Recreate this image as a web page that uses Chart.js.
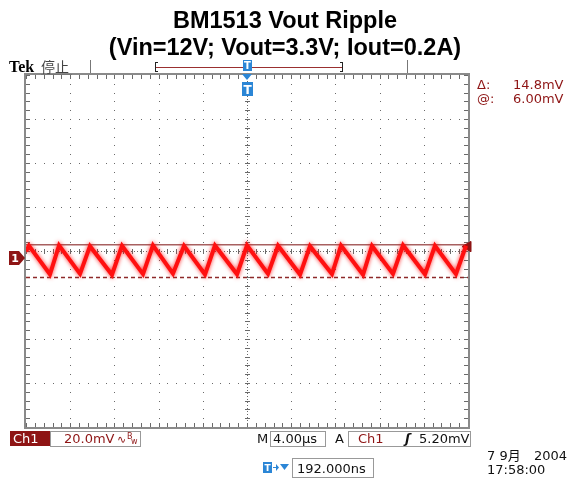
<!DOCTYPE html>
<html>
<head>
<meta charset="utf-8">
<script src="https://cdn.jsdelivr.net/npm/chart.js@4.4.0/dist/chart.umd.min.js"></script>
<style>
  body { margin: 0; background: #fff; }
  #wrap { position: relative; width: 570px; height: 482px; }
</style>
</head>
<body>
<div id="wrap"><canvas id="scope" width="570" height="482"></canvas></div>
<script>
  const titleLines = ['BM1513 Vout Ripple', '(Vin=12V; Vout=3.3V; Iout=0.2A)'];

  // Ch1 ripple trace: time in µs (4 µs/div), voltage in mV (20 mV/div)
  const traceTime = [-20.0, -19.73, -17.83, -17.01, -15.11, -14.21, -12.22, -11.31, -9.41, -8.51,
    -6.70, -5.70, -3.80, -2.90, -0.90, 0.0, 1.90, 2.81, 4.80, 5.70,
    7.69, 8.51, 10.50, 11.31, 13.21, 14.12, 16.11, 17.01, 18.91, 19.82];
  const traceMv = [3.0, 5.6, -7.4, 5.8, -7.2, 5.4, -7.6, 5.6, -7.3, 5.8,
    -7.1, 5.5, -7.5, 5.7, -7.4, 5.8, -7.2, 5.6, -7.5, 5.4,
    -7.3, 5.7, -7.6, 5.5, -7.2, 5.8, -7.4, 5.6, -7.3, 5.6];

  const cursorLevels = [6.00, -8.80];   // mV, delta = 14.8 mV
  const triggerLevel = 5.20;            // mV
  const timeRange = [-20, 20];          // 10 div x 4 µs
  const mvRange = [-76.8, 83.2];        // 8 div x 20 mV, ground a bit below centre
  const divTime = 4, divMv = 20, minorPerDiv = 5;

  const readoutDelta = ['\u0394:', '14.8mV'];
  const readoutAt = ['@:', '6.00mV'];

  const darkRed = '#8e1414';
  const tekBlue = '#2b86d6';
  const mono = '13px "DejaVu Sans"';

  const line = (ctx, x1, y1, x2, y2) => { ctx.beginPath(); ctx.moveTo(x1, y1); ctx.lineTo(x2, y2); ctx.stroke(); };

  const graticule = {
    id: 'graticule',
    beforeDatasetsDraw(chart) {
      const { ctx, chartArea: a, scales: { x, y } } = chart;
      ctx.save();
      const xMinor = divTime / minorPerDiv, yMinor = divMv / minorPerDiv;
      const xs = [], ys = [];
      for (let t = timeRange[0]; t <= timeRange[1] + 1e-6; t += xMinor) xs.push(x.getPixelForValue(t));
      for (let v = mvRange[0]; v <= mvRange[1] + 1e-6; v += yMinor) ys.push(y.getPixelForValue(v));
      ctx.fillStyle = '#6a6a6a';
      // dotted major lines
      for (let k = 1; k < 10; k++) {
        const px = Math.round(x.getPixelForValue(timeRange[0] + k * divTime));
        ys.forEach(py => ctx.fillRect(px, Math.round(py), 1, 1));
      }
      for (let k = 1; k < 8; k++) {
        const py = Math.round(y.getPixelForValue(mvRange[0] + k * divMv));
        xs.forEach(px => ctx.fillRect(Math.round(px), py, 1, 1));
      }
      // centre crosshair with ticks
      const cx = Math.round(x.getPixelForValue(0));
      const cy = Math.round(y.getPixelForValue(mvRange[0] + 4 * divMv));
      for (let py = a.top; py < a.bottom; py += 3) ctx.fillRect(cx, py, 1, 1);
      for (let px = a.left; px < a.right; px += 3) ctx.fillRect(px, cy, 1, 1);
      ys.forEach(py => ctx.fillRect(cx - 2, Math.round(py), 5, 1));
      xs.forEach(px => ctx.fillRect(Math.round(px), cy - 2, 1, 5));
      // border ticks
      xs.forEach(px => { ctx.fillRect(Math.round(px), a.top, 1, 4); ctx.fillRect(Math.round(px), a.bottom - 4, 1, 4); });
      ys.forEach(py => { ctx.fillRect(a.left, Math.round(py), 4, 1); ctx.fillRect(a.right - 4, Math.round(py), 4, 1); });
      ctx.strokeStyle = '#8a8a8a';
      ctx.lineWidth = 2;
      ctx.strokeRect(a.left - 1, a.top - 1, a.right - a.left + 2, a.bottom - a.top + 2);
      ctx.restore();
    },
    beforeDatasetDraw(chart, args) {
      if (args.index === 0) {
        chart.ctx.save();
        chart.ctx.shadowColor = 'rgba(255,0,0,0.8)';
        chart.ctx.shadowBlur = 4;
      }
    },
    afterDatasetDraw(chart, args) {
      if (args.index === 0) chart.ctx.restore();
    },
    afterDraw(chart) {
      const { ctx, chartArea: a, scales: { x, y } } = chart;
      ctx.save();
      // title
      ctx.fillStyle = '#000';
      ctx.textAlign = 'center';
      ctx.textBaseline = 'alphabetic';
      ctx.font = 'bold 23.5px "Liberation Sans", Arial';
      ctx.fillText(titleLines[0], 285, 28);
      ctx.fillText(titleLines[1], 285, 55);

      // top status line
      ctx.textAlign = 'left';
      ctx.font = 'bold 16px "Liberation Serif"';
      ctx.fillText('Tek', 9, 72);
      ctx.font = '14px "Noto Sans CJK SC"';
      ctx.fillStyle = '#444';
      ctx.fillText('停止', 41, 72);
      ctx.strokeStyle = '#777';
      ctx.lineWidth = 1;
      line(ctx, 41, 74.5, 72, 74.5);
      line(ctx, 90.5, 60, 90.5, 73);
      line(ctx, 407.5, 60, 407.5, 73);
      // record bracket
      ctx.strokeStyle = '#222';
      line(ctx, 155.5, 62, 155.5, 72); line(ctx, 155, 62.5, 158, 62.5); line(ctx, 155, 71.5, 158, 71.5);
      line(ctx, 342.5, 62, 342.5, 72); line(ctx, 340, 62.5, 343, 62.5); line(ctx, 340, 71.5, 343, 71.5);
      ctx.strokeStyle = '#9a3030';
      line(ctx, 156, 67.5, 342, 67.5);

      // trigger position markers
      const tx = x.getPixelForValue(0);
      ctx.fillStyle = tekBlue;
      ctx.fillRect(tx - 4, 60, 9, 11);
      ctx.beginPath(); ctx.moveTo(tx - 5, 74); ctx.lineTo(tx + 5, 74); ctx.lineTo(tx, 80); ctx.fill();
      ctx.fillRect(tx - 5, 82, 11, 14);
      ctx.fillStyle = '#fff';
      ctx.font = 'bold 10px "DejaVu Sans"';
      ctx.textAlign = 'center';
      ctx.fillText('T', tx + 0.5, 69);
      ctx.font = 'bold 12px "DejaVu Sans"';
      ctx.fillText('T', tx + 0.5, 94);

      // channel ground marker
      const gy = y.getPixelForValue(0);
      ctx.fillStyle = darkRed;
      ctx.beginPath();
      ctx.moveTo(9, gy - 7); ctx.lineTo(19, gy - 7); ctx.lineTo(25, gy); ctx.lineTo(19, gy + 7); ctx.lineTo(9, gy + 7);
      ctx.closePath(); ctx.fill();
      ctx.fillStyle = '#fff';
      ctx.font = 'bold 11px "DejaVu Sans"';
      ctx.fillText('1', 15, gy + 4);

      // cursor readouts
      ctx.textAlign = 'left';
      ctx.font = mono;
      ctx.fillStyle = darkRed;
      ctx.fillText(readoutDelta[0], 477, 89);
      ctx.fillText(readoutDelta[1], 513, 89);
      ctx.fillText(readoutAt[0], 477, 103);
      ctx.fillText(readoutAt[1], 513, 103);

      // bottom status row
      ctx.fillStyle = darkRed;
      ctx.fillRect(10, 431, 40, 15);
      ctx.fillStyle = '#fff';
      ctx.fillText('Ch1', 13, 443);
      ctx.strokeStyle = '#999';
      ctx.strokeRect(50.5, 431.5, 90, 15);
      ctx.fillStyle = darkRed;
      ctx.fillText('20.0mV', 64, 443);
      ctx.font = '11px "DejaVu Sans"';
      ctx.fillText('\u223F', 117, 443);
      ctx.font = '8px "DejaVu Sans"';
      ctx.fillText('B', 127, 439);
      ctx.fillText('w', 131, 444);

      ctx.font = mono;
      ctx.fillStyle = '#111';
      ctx.fillText('M', 257, 443);
      ctx.strokeRect(270.5, 431.5, 55, 15);
      ctx.fillText('4.00\u00B5s', 273, 443);
      ctx.fillText('A', 335, 443);
      ctx.strokeRect(348.5, 431.5, 122, 15);
      ctx.fillStyle = darkRed;
      ctx.fillText('Ch1', 358, 443);
      ctx.fillStyle = '#111';
      ctx.font = 'italic bold 13px "DejaVu Sans"';
      ctx.fillText('\u0283', 405, 443);
      ctx.font = mono;
      ctx.fillText('5.20mV', 419, 443);

      // delay readout
      ctx.fillStyle = tekBlue;
      ctx.fillRect(263, 462, 9, 11);
      ctx.fillRect(273, 467, 4, 1);
      ctx.beginPath(); ctx.moveTo(276, 464); ctx.lineTo(279, 467.5); ctx.lineTo(276, 471); ctx.fill();
      ctx.beginPath(); ctx.moveTo(280, 464); ctx.lineTo(289, 464); ctx.lineTo(284.5, 470); ctx.fill();
      ctx.fillStyle = '#fff';
      ctx.font = 'bold 9px "DejaVu Sans"';
      ctx.fillText('T', 264.5, 471);
      ctx.strokeStyle = '#999';
      ctx.strokeRect(292.5, 458.5, 81, 19);
      ctx.fillStyle = '#111';
      ctx.font = mono;
      ctx.fillText('192.000ns', 297, 473);

      // date / time
      ctx.font = '13px "DejaVu Sans", "Noto Sans CJK SC"';
      ctx.fillText('7 9\u6708', 487, 460);
      ctx.fillText('2004', 534, 460);
      ctx.fillText('17:58:00', 487, 474);
      ctx.restore();
    }
  };

  new Chart(document.getElementById('scope').getContext('2d'), {
    type: 'line',
    data: {
      datasets: [
        {
          data: traceTime.map((t, i) => ({ x: t, y: traceMv[i] })),
          borderColor: '#ff1010',
          borderWidth: 4,
          pointRadius: 0,
          tension: 0,
          order: 0
        },
        {
          data: timeRange.map(t => ({ x: t, y: cursorLevels[0] })),
          borderColor: '#a86060',
          borderWidth: 1.5,
          pointRadius: 0,
          order: 2
        },
        {
          data: timeRange.map(t => ({ x: t, y: cursorLevels[1] })),
          borderColor: '#8e2a2a',
          borderWidth: 1.5,
          borderDash: [4, 3],
          pointRadius: 0,
          order: 2
        },
        {
          data: [{ x: timeRange[1], y: triggerLevel }],
          pointStyle: 'triangle',
          rotation: -90,
          pointRadius: 6,
          pointBackgroundColor: darkRed,
          pointBorderColor: darkRed,
          showLine: false,
          clip: false,
          order: 0
        }
      ]
    },
    options: {
      responsive: false,
      animation: false,
      layout: { padding: { left: 26, right: 102, top: 75, bottom: 55 } },
      plugins: { legend: { display: false }, tooltip: { enabled: false }, title: { display: false } },
      scales: {
        x: { type: 'linear', min: timeRange[0], max: timeRange[1], display: false },
        y: { type: 'linear', min: mvRange[0], max: mvRange[1], display: false }
      }
    },
    plugins: [graticule]
  });
</script>
</body>
</html>
